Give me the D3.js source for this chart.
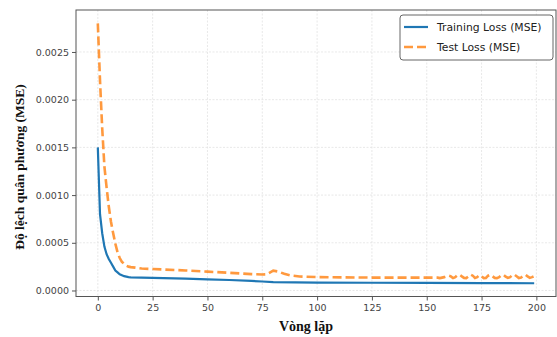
<!DOCTYPE html>
<html>
<head>
<meta charset="utf-8">
<script src="https://cdn.jsdelivr.net/npm/d3@7"></script>
<style>
  body { margin: 0; background: #fff; }
  svg { display: block; }
</style>
</head>
<body>
<div id="chart"></div>
<script>
// training loss (MSE) per epoch
const trainEpochs = [0, 1, 2, 3, 4, 5, 6, 7, 8, 9, 10, 11, 12, 13, 14, 15, 20, 25, 30, 40, 50, 60, 70, 75, 80, 90, 100, 125, 150, 175, 199];
const trainLoss = [0.00150, 0.00080, 0.00060, 0.00046, 0.00038, 0.00033, 0.00029, 0.00025, 0.00021, 0.00019, 0.00017, 0.00016, 0.00015, 0.000145, 0.00014, 0.000138, 0.000135, 0.000133, 0.00013, 0.000124, 0.000117, 0.00011, 0.0001, 0.000094, 0.000088, 0.000085, 0.000083, 0.000081, 0.00008, 0.000078, 0.000076];

// test loss (MSE)
const testEpochs = [0, 1, 2, 3, 4, 5, 6, 7, 8, 9, 10, 11, 12, 13, 14, 15, 17, 20, 25, 30, 40, 50, 60, 70, 75, 77, 80, 82, 85, 88, 92, 100, 125, 150, 155,
  156, 158, 160, 161, 162, 163, 164, 165, 166, 167, 168, 169, 170, 171, 172, 173, 174, 175, 176, 177, 178, 179, 180, 181, 182, 183, 184, 185, 186, 187, 188, 189, 190, 191, 192, 193, 194, 195, 196, 197, 198, 199];
const testLoss = [0.0028, 0.0022, 0.0017, 0.0013, 0.00108, 0.00088, 0.00072, 0.0006, 0.00049, 0.0004, 0.00034, 0.0003, 0.00028, 0.00026, 0.00025, 0.000245, 0.00024, 0.00023, 0.000225, 0.00022, 0.00021, 0.000198, 0.000185, 0.000172, 0.000168, 0.00017, 0.000208, 0.0002, 0.000175, 0.000158, 0.000147, 0.00014, 0.000135, 0.000135, 0.000135,
  0.00013, 0.00014, 0.000155, 0.000148, 0.00013, 0.00014, 0.00016, 0.000165, 0.000148, 0.000132, 0.00013, 0.000148, 0.000168, 0.000155, 0.000132, 0.00014, 0.00016, 0.000148, 0.00013, 0.000132, 0.000155, 0.000165, 0.000148, 0.000132, 0.00013, 0.00014, 0.00016, 0.000165, 0.000145, 0.000132, 0.00014, 0.00016, 0.000168, 0.000148, 0.00013, 0.000135, 0.000155, 0.000165, 0.000148, 0.000132, 0.00014, 0.00015];

const xTicks = [0, 25, 50, 75, 100, 125, 150, 175, 200];
const yTicks = [0, 0.0005, 0.0010, 0.0015, 0.0020, 0.0025];
const seriesNames = ["Training Loss (MSE)", "Test Loss (MSE)"];

var width = 557, height = 337;
var margin = { top: 10, right: 1, bottom: 40, left: 76 };

var svg = d3.select("#chart")
  .append("svg")
  .attr("width", width)
  .attr("height", height);

var x = d3.scaleLinear()
  .domain([-9.95, 208.95])
  .range([margin.left, width - margin.right]);

var y = d3.scaleLinear()
  .domain([-0.000063, 0.00294])
  .range([height - margin.bottom - 0.5, margin.top]);

// grid
svg.append("g")
  .selectAll("line.gx")
  .data(xTicks)
  .enter().append("line")
  .attr("x1", d => x(d)).attr("x2", d => x(d))
  .attr("y1", y.range()[1]).attr("y2", y.range()[0])
  .attr("stroke", "#e2e2e2").attr("stroke-width", 0.8)
  .attr("stroke-dasharray", "2,1.5");

svg.append("g")
  .selectAll("line.gy")
  .data(yTicks)
  .enter().append("line")
  .attr("x1", x.range()[0]).attr("x2", x.range()[1])
  .attr("y1", d => y(d)).attr("y2", d => y(d))
  .attr("stroke", "#e2e2e2").attr("stroke-width", 0.8)
  .attr("stroke-dasharray", "2,1.5");

// axes
var xAxis = svg.append("g")
  .attr("transform", "translate(0," + y.range()[0] + ")")
  .call(d3.axisBottom(x).tickValues(xTicks).tickSize(4).tickSizeOuter(0).tickPadding(4));

var yAxis = svg.append("g")
  .attr("transform", "translate(" + margin.left + ",0)")
  .call(d3.axisLeft(y).tickValues(yTicks).tickFormat(d3.format(".4f")).tickSize(4).tickSizeOuter(0).tickPadding(3));

[xAxis, yAxis].forEach(function (g) {
  g.select(".domain").remove();
  g.selectAll(".tick line").attr("stroke", "#555");
  g.selectAll(".tick text")
    .attr("fill", "#444")
    .style("font-family", "DejaVu Sans")
    .style("font-size", "9.5px");
});

// frame
svg.append("rect")
  .attr("x", x.range()[0]).attr("y", y.range()[1])
  .attr("width", x.range()[1] - x.range()[0])
  .attr("height", y.range()[0] - y.range()[1])
  .attr("fill", "none")
  .attr("stroke", "#555").attr("stroke-width", 1);

// lines
var lineTrain = d3.line()
  .x((d, i) => x(trainEpochs[i]))
  .y(d => y(d));

var lineTest = d3.line()
  .x((d, i) => x(testEpochs[i]))
  .y(d => y(d));

svg.append("path")
  .attr("d", lineTrain(trainLoss))
  .attr("fill", "none")
  .attr("stroke", "#1f77b4")
  .attr("stroke-width", 2.2);

svg.append("path")
  .attr("d", lineTest(testLoss))
  .attr("fill", "none")
  .attr("stroke", "#ff7f0e")
  .attr("stroke-opacity", 0.8)
  .attr("stroke-width", 2.6)
  .attr("stroke-dasharray", "9,4");

// axis titles
svg.append("text")
  .attr("x", 306)
  .attr("y", 331)
  .attr("text-anchor", "middle")
  .style("font-family", "Liberation Serif")
  .style("font-weight", "bold")
  .style("font-size", "14px")
  .attr("fill", "#111")
  .text("Vòng lặp");

svg.append("text")
  .attr("transform", "translate(24,167) rotate(-90)")
  .attr("text-anchor", "middle")
  .style("font-family", "Liberation Serif")
  .style("font-weight", "bold")
  .style("font-size", "13.5px")
  .attr("fill", "#111")
  .text("Độ lệch quân phương (MSE)");

// legend
var legend = svg.append("g").attr("transform", "translate(400,15)");

legend.append("rect")
  .attr("width", 153).attr("height", 45)
  .attr("rx", 3)
  .attr("fill", "#fff")
  .attr("stroke", "#666").attr("stroke-width", 1);

var items = legend.selectAll("g.item")
  .data(seriesNames)
  .enter().append("g")
  .attr("transform", (d, i) => "translate(0," + (12 + i * 20) + ")");

items.append("line")
  .attr("x1", 4).attr("x2", 28)
  .attr("stroke", (d, i) => i ? "#ff7f0e" : "#1f77b4")
  .attr("stroke-opacity", (d, i) => i ? 0.8 : 1)
  .attr("stroke-width", (d, i) => i ? 2.6 : 2.2)
  .attr("stroke-dasharray", (d, i) => i ? "9,4" : null);

items.append("text")
  .attr("x", 37)
  .attr("dy", "0.35em")
  .style("font-family", "DejaVu Sans")
  .style("font-size", "10.8px")
  .attr("fill", "#222")
  .text(d => d);
</script>
</body>
</html>
